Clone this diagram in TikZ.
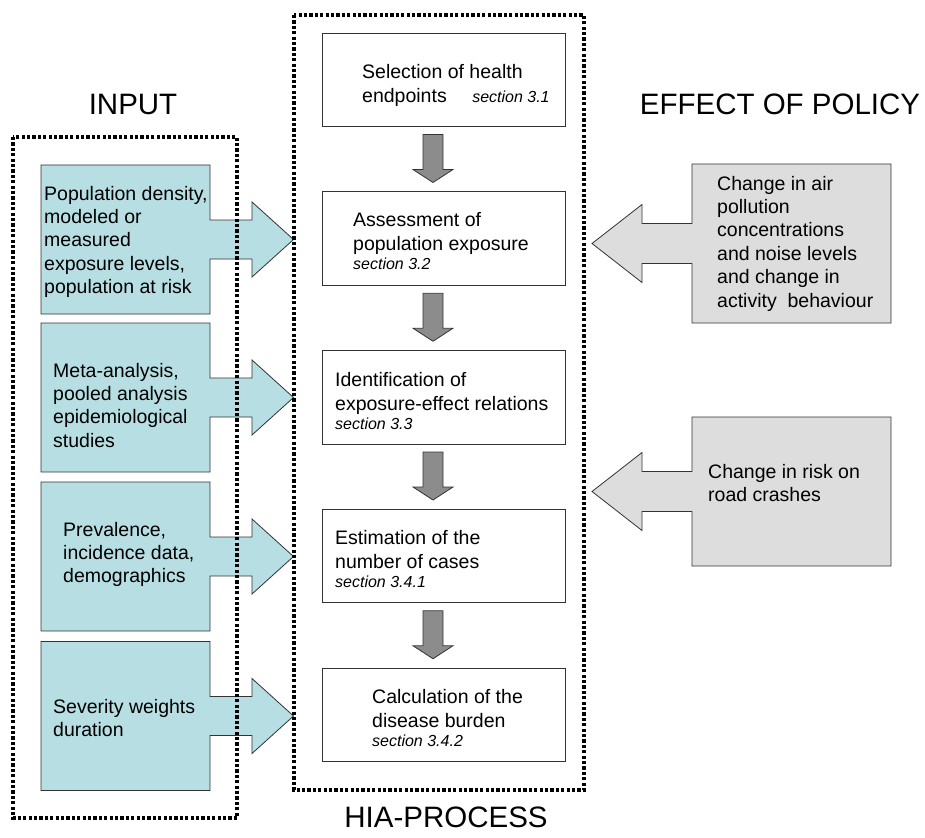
\documentclass[tikz,border=0pt]{standalone}
\usepackage{fontspec}
\setmainfont{Liberation Sans}
\usetikzlibrary{calc}
\definecolor{tealfill}{HTML}{B7DFE3}
\definecolor{grayfill}{HTML}{DDDDDD}
\definecolor{darrow}{HTML}{8C8C8C}
\definecolor{edgecol}{HTML}{333333}
\newcommand{\sectlabel}[1]{{\fontsize{16}{18}\selectfont\itshape #1}}
\begin{document}
\begin{tikzpicture}[x=1pt,y=-1pt,
  inbox/.style={minimum width=169pt, minimum height=149pt, inner sep=0pt, outer sep=0pt},
  efbox/.style={minimum width=199pt, inner sep=0pt, outer sep=0pt},
  pbox/.style={draw=edgecol, line width=0.8pt, fill=white, minimum width=243pt, minimum height=93.5pt, inner sep=0pt, outer sep=0pt},
  shapeline/.style={draw=edgecol, line width=0.8pt, line join=miter},
  txt/.style={font=\fontsize{19.5}{23.4}\selectfont, align=left, inner sep=0pt, anchor=base west},
  titletxt/.style={font=\fontsize{29.5}{34}\selectfont, inner sep=0pt, anchor=base},
  dotbox/.style={draw=black, line width=3.2pt, dash pattern=on 3.2pt off 2.2pt},
  downarrow/.style={fill=darrow, draw=edgecol, line width=0.8pt, line join=miter}
]
\useasboundingbox (0,0) rectangle (925,837);

% input boxes (shapes)
\node[inbox] (in1) at (125.5,239.5) {};
\node[inbox] (in2) at (125.5,397.5) {};
\node[inbox] (in3) at (125.5,556.5) {};
\node[inbox] (in4) at (125.5,716) {};
\foreach \b in {in1,in2,in3,in4}{
  \draw[shapeline, fill=tealfill] (\b.north west) -- (\b.north east)
    -- ($(\b.east)+(0,-19.5)$) -- ($(\b.east)+(42,-19.5)$) -- ($(\b.east)+(42,-37.5)$)
    -- ($(\b.east)+(83.5,0)$)
    -- ($(\b.east)+(42,37.5)$) -- ($(\b.east)+(42,19.5)$) -- ($(\b.east)+(0,19.5)$)
    -- (\b.south east) -- (\b.south west) -- cycle;
}

% effect boxes (shapes)
\node[efbox, minimum height=159pt] (ef1) at (791.5,243.5) {};
\node[efbox, minimum height=149pt] (ef2) at (791.5,491.5) {};
\foreach \b in {ef1,ef2}{
  \draw[shapeline, fill=grayfill] (\b.north east) -- (\b.south east) -- (\b.south west)
    -- ($(\b.west)+(0,20)$) -- ($(\b.west)+(-50,20)$) -- ($(\b.west)+(-50,39)$)
    -- ($(\b.west)+(-100,0)$)
    -- ($(\b.west)+(-50,-39)$) -- ($(\b.west)+(-50,-20)$) -- ($(\b.west)+(0,-20)$)
    -- (\b.north west) -- cycle;
}

% process boxes
\node[pbox] (p1) at (443.5,79.75) {};
\node[pbox] (p2) at (443.5,238.5) {};
\node[pbox] (p3) at (443.5,397.25) {};
\node[pbox] (p4) at (443.5,556) {};
\node[pbox] (p5) at (443.5,714.75) {};

% down arrows
\foreach \a in {p1,p2,p3,p4}{
  \draw[downarrow] ($(\a.south)+(-20.5,8)$) -- ($(\a.south)+(-0.5,8)$)
    -- ($(\a.south)+(-0.5,43)$) -- ($(\a.south)+(9.5,43)$)
    -- ($(\a.south)+(-10.5,56)$)
    -- ($(\a.south)+(-30.5,43)$) -- ($(\a.south)+(-20.5,43)$) -- cycle;
}

% texts (anchor = baseline of the last line)
\node[txt] (tin1) at (44,293.6) {Population density,\\modeled or\\measured\\exposure levels,\\population at risk};
\node[txt] (tin2) at (53,447.2) {Meta-analysis,\\pooled analysis\\epidemiological\\studies};
\node[txt] (tin3) at (63,582.8) {Prevalence,\\incidence data,\\demographics};
\node[txt] (tin4) at (53,736.4) {Severity weights\\duration};

\node[txt] (tp1) at (362,102.4) {Selection of health\\endpoints\hspace{25.5pt}\sectlabel{section 3.1}};
\node[txt] (tp2) at (353,269) {Assessment of\\population exposure\\[-4.5pt]\sectlabel{section 3.2}};
\node[txt] (tp3) at (335,429) {Identification of\\exposure-effect relations\\[-4.5pt]\sectlabel{section 3.3}};
\node[txt] (tp4) at (335,587) {Estimation of the\\number of cases\\[-4.5pt]\sectlabel{section 3.4.1}};
\node[txt] (tp5) at (372,746) {Calculation of the\\disease burden\\[-4.5pt]\sectlabel{section 3.4.2}};

\node[txt] (tef1) at (717,307) {Change in air\\pollution\\concentrations\\and noise levels\\and change in\\activity\ \ behaviour};
\node[txt] (tef2) at (708,501.4) {Change in risk on\\road crashes};

% titles
\node[titletxt] (tinput) at (133,115) {INPUT};
\node[titletxt] (teffect) at (780,115) {EFFECT OF POLICY};
\node[titletxt] (thia) at (446,827) {HIA-PROCESS};

% dotted frames
\draw[dotbox] (13,137) rectangle (237,818);
\draw[dotbox] (294,15) rectangle (584,790);
\end{tikzpicture}
\end{document}
